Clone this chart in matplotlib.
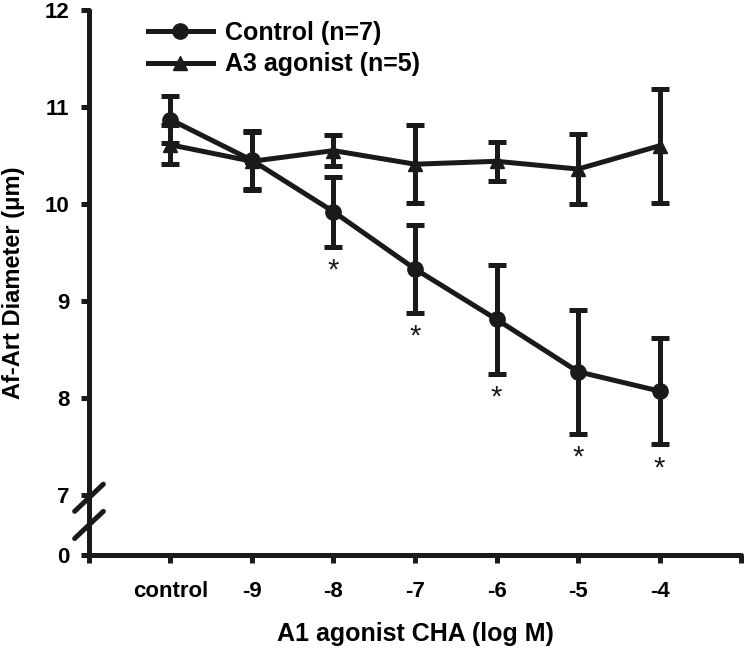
import numpy as np
import matplotlib
matplotlib.use('Agg')
import matplotlib.pyplot as plt
from matplotlib.lines import Line2D

plt.rcParams['font.family'] = ['Liberation Sans', 'DejaVu Sans']
plt.rcParams['font.weight'] = 'bold'

categories = ['control', '-9', '-8', '-7', '-6', '-5', '-4']

control_mean = [10.87, 10.45, 9.92, 9.33, 8.81, 8.27, 8.07]
control_err = [0.24, 0.30, 0.36, 0.45, 0.56, 0.64, 0.55]

a3_mean = [10.61, 10.44, 10.55, 10.41, 10.44, 10.36, 10.60]
a3_err = [0.20, 0.30, 0.16, 0.40, 0.20, 0.36, 0.59]

signif = [False, False, True, True, True, True, True]

# axis break: the "0" tick sits just below 7
y_zero_pos = 6.38
ytick_vals = [y_zero_pos, 7, 8, 9, 10, 11, 12]
ytick_labels = ['0', '7', '8', '9', '10', '11', '12']

col = '#1a1a1a'
lw = 3.6

fig = plt.figure(figsize=(7.44, 6.51), dpi=100)
ax = fig.add_axes([0.1196, 0.1475, 0.8764, 0.8371])

x = np.arange(len(categories))

ax.errorbar(x, control_mean, yerr=control_err, color=col, lw=lw, marker='o',
            ms=11, capsize=6.5, capthick=lw, elinewidth=lw, zorder=3)
ax.errorbar(x, a3_mean, yerr=a3_err, color=col, lw=lw, marker='^',
            ms=10, capsize=6.5, capthick=lw, elinewidth=lw, zorder=3)

for xi, m, e, s in zip(x, control_mean, control_err, signif):
    if s:
        ax.text(xi, m - e - 0.25, '*', ha='center', va='center',
                fontsize=21, fontweight='normal', color=col)

ax.set_xlim(-1, 7)
ax.set_ylim(y_zero_pos, 12)

ax.set_xticks(np.arange(-1, 8))
ax.set_xticklabels([''] + categories + [''])
ax.set_yticks(ytick_vals)
ax.set_yticklabels(ytick_labels)

for sp in ['top', 'right']:
    ax.spines[sp].set_visible(False)
for sp in ['left', 'bottom']:
    ax.spines[sp].set_linewidth(lw)
    ax.spines[sp].set_color(col)
    ax.spines[sp].set_capstyle('round')

ax.tick_params(axis='both', direction='out', length=6, width=lw, color=col,
               labelsize=16)
ax.tick_params(axis='x', pad=13)
ax.tick_params(axis='y', pad=8)

ax.set_xlabel('A1 agonist CHA (log M)', fontsize=18, fontweight='bold',
              labelpad=14)
ax.set_ylabel('Af-Art Diameter (μm)', fontsize=17, fontweight='bold',
              labelpad=14)

# break marks on the y axis
trans = ax.get_yaxis_transform()
for yc in [6.97, 6.69]:
    ax.add_line(Line2D([-0.022, 0.022], [yc - 0.14, yc + 0.14],
                       transform=trans, color=col, lw=lw,
                       solid_capstyle='round', clip_on=False))

handles = [Line2D([], [], color=col, lw=lw, marker='o', ms=11),
           Line2D([], [], color=col, lw=lw, marker='^', ms=10)]
ax.legend(handles, ['Control (n=7)', 'A3 agonist (n=5)'], loc='upper left',
          bbox_to_anchor=(0.09, 0.98), frameon=False, fontsize=18,
          handlelength=2.6, borderpad=0, borderaxespad=0,
          labelspacing=0.3, handletextpad=0.5)

fig.savefig('out.png', dpi=100)
